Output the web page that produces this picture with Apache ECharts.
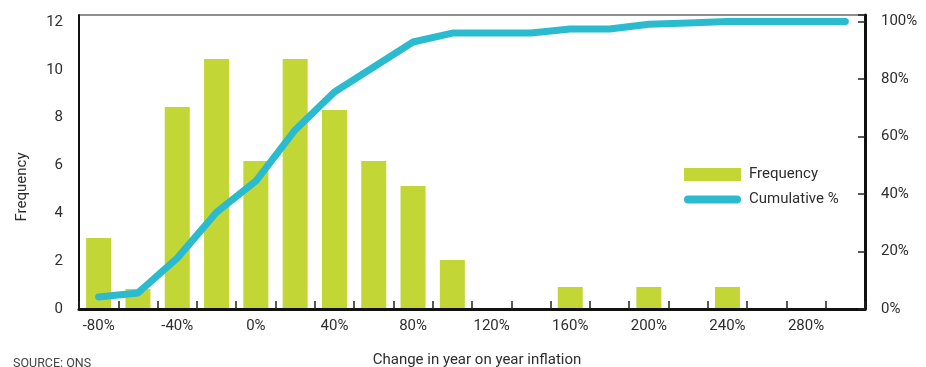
<!DOCTYPE html>
<html>
<head>
<meta charset="utf-8">
<script src="https://cdn.jsdelivr.net/npm/echarts@6/dist/echarts.min.js"></script>
<style>
  html, body { margin: 0; padding: 0; background: #ffffff; }
  #chart { width: 926px; height: 367px; }
</style>
</head>
<body>
<div id="chart"></div>
<script>
// Bins of the change in year-on-year inflation
const categories = ['-80%', '-60%', '-40%', '-20%', '0%', '20%', '40%', '60%', '80%', '100%',
  '120%', '140%', '160%', '180%', '200%', '220%', '240%', '260%', '280%', '300%'];

// Number of observations in each bin
const frequency = [2.97, 0.84, 8.44, 10.45, 6.19, 10.45, 8.32, 6.19, 5.14, 2.05,
  0, 0, 0.92, 0, 0.92, 0, 0.92, 0, 0, 0];

// Running share of all observations, in percent
const cumulative = [4.2, 5.6, 17.7, 33.7, 44.5, 62.3, 75.5, 84.2, 92.9, 96.0,
  96.0, 96.0, 97.4, 97.4, 99.1, 99.5, 100, 100, 100, 100];

// Tick labels of the two value axes
const freqTicks = [0, 2, 4, 6, 8, 10, 12];
const pctTicks = [0, 20, 40, 60, 80, 100];

const FONT = 'Roboto, "Liberation Sans", sans-serif';
const TEXT = '#2e2e2e';
const BAR = '#c2d636';
const LINE = '#2bbbce';

// Rounded bar used as the legend swatch of the cumulative line
const LINE_ICON = 'path://M4,0 L53,0 A4,4 0 0 1 53,8 L4,8 A4,4 0 0 1 4,0 Z';

const chart = echarts.init(document.getElementById('chart'), null, { renderer: 'canvas' });

chart.setOption({
  animation: false,
  backgroundColor: '#ffffff',
  textStyle: { fontFamily: FONT, color: TEXT },
  grid: {
    left: 79, right: 61, top: 15, bottom: 58,
    outerBoundsMode: 'none',
    containLabel: false,
    show: true, borderWidth: 1, borderColor: '#1e1e1e', backgroundColor: 'transparent'
  },
  legend: {
    orient: 'vertical',
    left: 684, top: 167,
    padding: 0,
    itemWidth: 57, itemHeight: 13, itemGap: 10,
    textStyle: { fontFamily: FONT, fontSize: 15, color: TEXT, padding: [0, 0, 0, 3] },
    data: [
      { name: 'Frequency', icon: 'rect', itemStyle: { color: BAR } },
      { name: 'Cumulative %', icon: LINE_ICON, itemStyle: { color: LINE } }
    ]
  },
  xAxis: {
    type: 'category',
    data: categories,
    boundaryGap: true,
    z: 5,
    name: 'Change in year on year inflation',
    nameLocation: 'middle',
    nameGap: 44,
    nameTextStyle: { fontFamily: FONT, fontSize: 15, color: TEXT, padding: [0, 0, 0, 10] },
    axisLine: { show: true, lineStyle: { color: '#111', width: 3 } },
    axisTick: { show: true, inside: true, length: 8, interval: 0, lineStyle: { color: '#222', width: 1.5 } },
    axisLabel: { interval: 1, margin: 10, fontFamily: FONT, fontSize: 15, color: TEXT },
    splitLine: { show: false }
  },
  yAxis: [
    {
      type: 'value',
      min: 0, max: 12.29, interval: 2,
      z: 5,
      axisLine: { show: true, lineStyle: { color: '#111', width: 2 } },
      axisTick: { show: false },
      axisLabel: {
        margin: 16, fontFamily: FONT, fontSize: 15, color: TEXT,
        formatter: v => (freqTicks.indexOf(v) >= 0 ? String(v) : '')
      },
      splitLine: { show: false }
    },
    {
      type: 'value',
      position: 'right',
      min: 0, max: 102.3, interval: 20,
      z: 5,
      axisLine: { show: true, lineStyle: { color: '#111', width: 3 } },
      axisTick: { show: true, inside: true, length: 7, lineStyle: { color: '#222', width: 1.5 } },
      axisLabel: {
        margin: 16, fontFamily: FONT, fontSize: 15, color: TEXT,
        formatter: v => (pctTicks.indexOf(v) >= 0 ? v + '%' : '')
      },
      splitLine: { show: false }
    }
  ],
  series: [
    {
      name: 'Frequency',
      type: 'bar',
      yAxisIndex: 0,
      data: frequency,
      barWidth: 25,
      itemStyle: { color: BAR },
      z: 2
    },
    {
      name: 'Cumulative %',
      type: 'line',
      yAxisIndex: 1,
      data: cumulative,
      symbol: 'none',
      showSymbol: false,
      lineStyle: { color: LINE, width: 7, cap: 'round', join: 'round' },
      itemStyle: { color: LINE },
      z: 3
    }
  ],
  graphic: [
    {
      type: 'text',
      left: 13, top: 357,
      style: { text: 'SOURCE: ONS', font: '12.5px ' + FONT, fill: '#444' }
    },
    {
      type: 'text',
      x: 22, y: 187,
      rotation: Math.PI / 2,
      style: {
        text: 'Frequency', font: '15px ' + FONT, fill: TEXT,
        align: 'center', verticalAlign: 'middle'
      }
    }
  ]
});
</script>
</body>
</html>
